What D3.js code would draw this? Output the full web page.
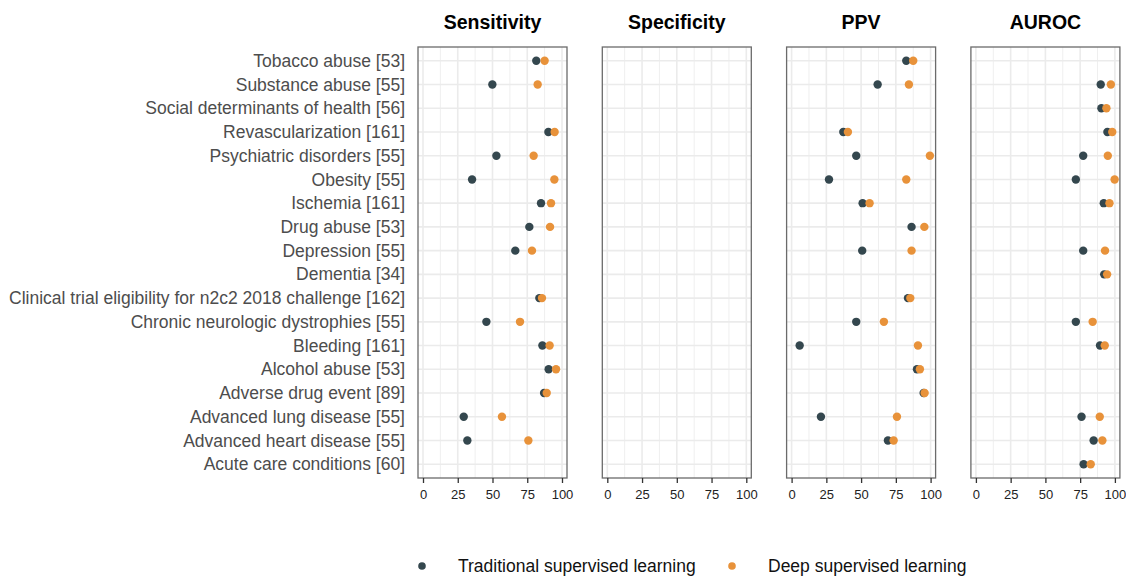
<!DOCTYPE html>
<html>
<head>
<meta charset="utf-8">
<script src="https://cdn.jsdelivr.net/npm/d3@7"></script>
<style>
  body { margin: 0; background: #fff; }
  svg { font-family: "Liberation Sans", Arial, sans-serif; }
</style>
</head>
<body>
<div id="chart"></div>
<script>
// categories (top to bottom)
const tasks = [
  "Tobacco abuse [53]",
  "Substance abuse [55]",
  "Social determinants of health [56]",
  "Revascularization [161]",
  "Psychiatric disorders [55]",
  "Obesity [55]",
  "Ischemia [161]",
  "Drug abuse [53]",
  "Depression [55]",
  "Dementia [34]",
  "Clinical trial eligibility for n2c2 2018 challenge [162]",
  "Chronic neurologic dystrophies [55]",
  "Bleeding [161]",
  "Alcohol abuse [53]",
  "Adverse drug event [89]",
  "Advanced lung disease [55]",
  "Advanced heart disease [55]",
  "Acute care conditions [60]"
];

const metrics = ["Sensitivity", "Specificity", "PPV", "AUROC"];
const methods = ["Traditional supervised learning", "Deep supervised learning"];
const ticks = [0, 25, 50, 75, 100];

// values per metric, same order as tasks, null = not reported
const sensTrad = [81.5, 49.9, null, 90.2, 52.8, 35.3, 84.9, 76.5, 66.4, null, 83.7, 45.6, 85.9, 90.4, 87.1, 29.3, 31.9, null];
const sensDeep = [87.5, 82.5, null, 94.7, 79.6, 94.5, 92.1, 91.4, 78.4, null, 85.6, 69.8, 91.1, 95.7, 89.0, 56.8, 75.8, null];
const specTrad = [null, null, null, null, null, null, null, null, null, null, null, null, null, null, null, null, null, null];
const specDeep = [null, null, null, null, null, null, null, null, null, null, null, null, null, null, null, null, null, null];
const ppvTrad = [82.5, 61.9, null, 37.2, 46.5, 26.9, 51.1, 86.3, 50.8, null, 83.7, 46.5, 5.8, 90.2, 95.0, 21.1, 69.3, null];
const ppvDeep = [87.5, 84.4, null, 40.5, 99.5, 82.5, 56.1, 95.5, 86.3, null, 85.4, 66.4, 90.9, 92.3, 95.7, 75.8, 73.4, null];
const aurocTrad = [null, 89.8, 90.3, 94.6, 77.2, 71.9, 92.0, null, 77.2, 92.3, null, 71.9, 89.3, null, null, 76.0, 84.7, 77.5];
const aurocDeep = [null, 97.1, 93.9, 98.1, 94.9, 99.8, 96.1, null, 92.9, 94.4, null, 84.0, 92.7, null, null, 89.1, 91.0, 82.6];

const series = [
  [sensTrad, sensDeep],
  [specTrad, specDeep],
  [ppvTrad, ppvDeep],
  [aurocTrad, aurocDeep]
];

const colors = ["#34474e", "#e8923a"];

const W = 1126, H = 577;
const panelLeft = 418, panelTop = 47, panelW = 149, panelH = 431, panelStep = 184.3;

const svg = d3.select("#chart")
  .append("svg")
  .attr("width", W)
  .attr("height", H);

const x = d3.scaleLinear()
  .domain([-3.6, 103.6])
  .range([0, panelW]);

const y = d3.scalePoint()
  .domain(tasks)
  .range([0, panelH])
  .padding(0.58);

// row labels
svg.append("g")
  .selectAll("text")
  .data(tasks)
  .join("text")
    .attr("x", panelLeft - 13)
    .attr("y", d => panelTop + y(d))
    .attr("dy", "0.35em")
    .attr("text-anchor", "end")
    .style("font-size", "17.5px")
    .style("fill", "#4d4d4d")
    .text(d => d);

metrics.forEach((m, i) => {
  const g = svg.append("g")
    .attr("transform", `translate(${panelLeft + i * panelStep}, ${panelTop})`);

  // minor vertical grid
  g.append("g")
    .selectAll("line")
    .data([12.5, 37.5, 62.5, 87.5])
    .join("line")
      .attr("x1", d => x(d)).attr("x2", d => x(d))
      .attr("y1", 0).attr("y2", panelH)
      .style("stroke", "#efefef")
      .style("stroke-width", 1);

  // major vertical grid
  g.append("g")
    .selectAll("line")
    .data(ticks)
    .join("line")
      .attr("x1", d => x(d)).attr("x2", d => x(d))
      .attr("y1", 0).attr("y2", panelH)
      .style("stroke", "#ebebeb")
      .style("stroke-width", 1.6);

  // horizontal grid
  g.append("g")
    .selectAll("line")
    .data(tasks)
    .join("line")
      .attr("x1", 0).attr("x2", panelW)
      .attr("y1", d => y(d)).attr("y2", d => y(d))
      .style("stroke", "#ebebeb")
      .style("stroke-width", 1.6);

  // frame
  g.append("rect")
    .attr("width", panelW)
    .attr("height", panelH)
    .style("fill", "none")
    .style("stroke", "#6b6b6b")
    .style("stroke-width", 1.3);

  // x axis
  const ax = g.append("g")
    .attr("transform", `translate(0, ${panelH})`)
    .call(d3.axisBottom(x).tickValues(ticks).tickSize(5).tickPadding(7));
  ax.select(".domain").remove();
  ax.selectAll("line").style("stroke", "#333").style("stroke-width", 1.3);
  ax.selectAll("text")
    .style("font-size", "13px")
    .style("font-family", "Liberation Sans, Arial, sans-serif")
    .style("fill", "#222");

  // title
  svg.append("text")
    .attr("x", panelLeft + i * panelStep + panelW / 2)
    .attr("y", 29)
    .attr("text-anchor", "middle")
    .style("font-size", "19.5px")
    .style("font-weight", "bold")
    .style("fill", "#000")
    .text(m);

  // dots: traditional first, deep on top
  series[i].forEach((vals, k) => {
    g.append("g")
      .selectAll("circle")
      .data(tasks.map((t, j) => ({task: t, v: vals[j]})).filter(d => d.v !== null))
      .join("circle")
        .attr("cx", d => x(d.v))
        .attr("cy", d => y(d.task))
        .attr("r", 4.2)
        .style("fill", colors[k]);
  });
});

// legend
const legendX = [422, 732];
const leg = svg.append("g");
methods.forEach((name, k) => {
  leg.append("circle")
    .attr("cx", legendX[k])
    .attr("cy", 566)
    .attr("r", 3.8)
    .style("fill", colors[k]);
  leg.append("text")
    .attr("x", legendX[k] + 36)
    .attr("y", 566)
    .attr("dy", "0.35em")
    .style("font-size", "17.5px")
    .style("fill", "#111")
    .text(name);
});
</script>
</body>
</html>
